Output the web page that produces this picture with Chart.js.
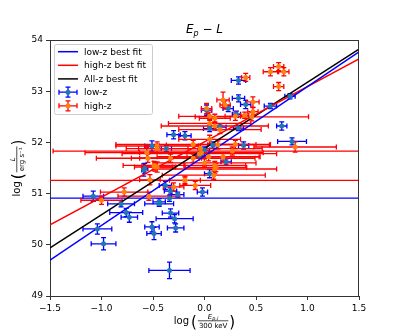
<!DOCTYPE html>
<html><head><meta charset="utf-8">
<script src="https://cdn.jsdelivr.net/npm/chart.js@4/dist/chart.umd.min.js"></script>
<style>html,body{margin:0;padding:0;background:#fff}canvas{display:block}</style>
</head><body>
<canvas id="c" width="399" height="332"></canvas>
<script>
// ---- data ----
const lowX    = [-1.08,-1.04,-0.98,-0.81,-0.76,-0.73,-0.59,-0.51,-0.49,-0.44,-0.44,-0.38,-0.34,-0.34,-0.33,-0.33,-0.29,-0.28,-0.26,-0.51,-0.30,-0.19,-0.37,-0.02,0.05,0.21,0.05,0.15,0.33,0.02,0.23,0.33,0.40,0.31,0.38,0.33,0.64,0.83,0.75,0.85,-0.58,-0.05,0.00,0.08];
const lowY    = [50.95,50.31,50.02,50.80,50.63,50.54,51.46,50.35,50.22,50.84,50.80,51.16,50.91,49.50,51.05,50.62,50.51,50.33,50.98,51.93,52.15,52.13,51.88,51.03,51.39,51.62,52.27,52.30,52.28,52.63,52.66,52.86,52.74,52.55,51.94,53.21,52.71,52.90,52.32,52.02,51.49,51.75,51.85,51.95];
const lowXErr = [0.10,0.14,0.12,0.13,0.16,0.08,0.02,0.07,0.07,0.06,0.14,0.06,3.00,0.20,0.06,0.08,0.18,0.08,0.06,0.07,0.065,0.06,0.05,0.05,0.05,0.05,0.06,0.06,0.05,0.05,0.05,0.06,0.05,0.04,0.05,0.07,0.06,0.05,0.05,0.14,0.03,0.05,0.05,0.05];
const lowYErr = [0.10,0.10,0.12,0.06,0.08,0.10,0.12,0.10,0.12,0.06,0.05,0.08,0.06,0.16,0.06,0.08,0.08,0.08,0.05,0.10,0.08,0.08,0.06,0.08,0.08,0.06,0.06,0.06,0.05,0.10,0.06,0.07,0.08,0.06,0.07,0.07,0.05,0.05,0.08,0.07,0.10,0.06,0.06,0.06];

const highX    = [-1.00,-0.78,-0.54,-0.53,-0.19,-0.09,-0.30,-0.46,0.09,0.11,-0.56,-0.55,-0.49,-0.46,-0.46,-0.33,-0.48,-0.11,-0.03,0.05,-0.04,0.04,0.13,0.10,0.30,0.27,0.10,0.18,0.05,0.88,0.10,0.30,0.46,0.02,0.18,0.20,0.47,0.47,0.40,0.64,0.72,0.77,0.72,0.39,-0.19,0.10,0.15,-0.11,-0.05,0.00,0.05];
const highY    = [50.87,51.03,50.95,51.27,51.26,51.16,51.13,51.52,51.36,51.51,51.80,51.69,51.55,51.93,51.88,51.69,51.52,51.69,51.80,52.06,51.88,51.72,51.95,51.55,51.96,51.83,51.48,51.72,52.37,51.91,52.47,52.51,52.50,52.66,52.83,52.73,52.79,52.60,53.27,53.38,53.48,53.38,53.09,52.53,51.26,52.32,52.25,51.96,51.78,51.60,52.51];
const highXErr = [0.20,0.23,0.30,0.10,0.15,0.15,0.10,0.15,0.50,0.30,0.60,0.50,0.30,0.40,0.30,0.30,0.20,0.60,0.60,0.30,0.60,0.50,0.50,0.30,0.20,1.74,0.60,0.35,0.40,0.40,0.15,0.10,0.55,0.05,0.06,0.05,0.06,0.05,0.04,0.07,0.05,0.05,0.05,0.04,3.00,0.52,0.40,0.75,0.75,0.50,0.30];
const highYErr = [0.08,0.08,0.08,0.10,0.08,0.08,0.08,0.10,0.08,0.08,0.10,0.08,0.08,0.08,0.08,0.08,0.08,0.08,0.08,0.08,0.08,0.08,0.08,0.08,0.08,0.08,0.08,0.08,0.08,0.10,0.08,0.08,0.08,0.10,0.15,0.08,0.10,0.08,0.08,0.08,0.08,0.08,0.08,0.06,0.06,0.08,0.08,0.08,0.08,0.08,0.08];

const fitX     = [-1.5, 1.5];
const lowFitY  = [49.70, 53.77];
const highFitY = [50.39, 53.63];
const allFitY  = [49.94, 53.82];

const xTicks = [-1.5,-1.0,-0.5,0.0,0.5,1.0,1.5];
const yTicks = [49,50,51,52,53,54];

const FONT = 'DejaVu Sans';
const fmtX = v => (v<0?'\u2212':'') + Math.abs(v).toFixed(1);
const fmtY = v => String(v);
const pts = (xs, ys) => xs.map((x,i)=>({x, y: ys[i]}));

const errPlugin = {
  id:'errbars',
  beforeDatasetsDraw(chart){
    const {ctx, chartArea:a, scales:{x, y}} = chart;
    ctx.save();
    ctx.beginPath(); ctx.rect(a.left, a.top, a.right-a.left, a.bottom-a.top); ctx.clip();
    const draw = (xs, ys, xe, ye, col) => {
      ctx.strokeStyle = col; ctx.lineWidth = 1.3;
      for (let i=0;i<xs.length;i++){
        const px = x.getPixelForValue(xs[i]), py = y.getPixelForValue(ys[i]);
        const x0 = x.getPixelForValue(xs[i]-xe[i]), x1 = x.getPixelForValue(xs[i]+xe[i]);
        const y0 = y.getPixelForValue(ys[i]-ye[i]), y1 = y.getPixelForValue(ys[i]+ye[i]);
        ctx.beginPath();
        ctx.moveTo(x0, py); ctx.lineTo(x1, py);
        ctx.moveTo(px, y0); ctx.lineTo(px, y1);
        ctx.moveTo(x0, py-2.5); ctx.lineTo(x0, py+2.5);
        ctx.moveTo(x1, py-2.5); ctx.lineTo(x1, py+2.5);
        ctx.moveTo(px-2.5, y0); ctx.lineTo(px+2.5, y0);
        ctx.moveTo(px-2.5, y1); ctx.lineTo(px+2.5, y1);
        ctx.stroke();
      }
    };
    draw(lowX, lowY, lowXErr, lowYErr, '#0000ff');
    draw(highX, highY, highXErr, highYErr, '#ff0000');
    ctx.restore();
  },
  afterDraw(chart){
    const {ctx, chartArea:a} = chart;
    ctx.save();
    ctx.strokeStyle = '#333'; ctx.lineWidth = 1;
    ctx.beginPath();
    ctx.moveTo(a.left, a.top+0.5); ctx.lineTo(a.right, a.top+0.5);
    ctx.moveTo(a.right-0.5, a.top); ctx.lineTo(a.right-0.5, a.bottom);
    ctx.stroke();
    ctx.fillStyle = '#000'; ctx.textBaseline = 'alphabetic';
    const cx = (a.left+a.right)/2;
    ctx.font = 'italic 12px ' + FONT;
    const wE = ctx.measureText('E').width;
    ctx.font = '8px ' + FONT; const wp = ctx.measureText('p').width;
    ctx.font = '12px ' + FONT; const wm = ctx.measureText(' \u2212 ').width;
    ctx.font = 'italic 12px ' + FONT; const wL = ctx.measureText('L').width;
    let tx = cx - (wE+wp+wm+wL)/2, ty = 33;
    ctx.textAlign='left';
    ctx.font = 'italic 12px ' + FONT; ctx.fillText('E', tx, ty); tx += wE;
    ctx.font = 'italic 8px ' + FONT; ctx.fillText('p', tx, ty+3); tx += wp;
    ctx.font = '12px ' + FONT; ctx.fillText(' \u2212 ', tx, ty); tx += wm;
    ctx.font = 'italic 12px ' + FONT; ctx.fillText('L', tx, ty);

    const drawFracLabel = (num, numSub, den, ox, oy) => {
      let px = ox;
      ctx.font = '10px ' + FONT; ctx.fillText('log', px, oy); px += ctx.measureText('log').width + 2;
      ctx.font = '15px ' + FONT; ctx.fillText('(', px, oy+3); px += ctx.measureText('(').width + 1;
      ctx.font = 'italic 7px ' + FONT; const wn = ctx.measureText(num).width;
      ctx.font = 'italic 5px ' + FONT; const wns = ctx.measureText(numSub).width;
      ctx.font = '7px ' + FONT; const wd = ctx.measureText(den).width;
      const fw = Math.max(wn+wns, wd) + 2;
      let nx = px + (fw - (wn+wns))/2;
      ctx.font = 'italic 7px ' + FONT; ctx.fillText(num, nx, oy-5);
      ctx.font = 'italic 5px ' + FONT; ctx.fillText(numSub, nx+wn, oy-4);
      ctx.fillRect(px, oy-3.5, fw, 0.7);
      ctx.font = '7px ' + FONT; ctx.fillText(den, px + (fw-wd)/2, oy+4);
      px += fw + 1;
      ctx.font = '15px ' + FONT; ctx.fillText(')', px, oy+3); px += ctx.measureText(')').width;
      return px - ox;
    };
    ctx.save(); ctx.globalAlpha = 0;
    const wx = drawFracLabel('E','p,i','300 keV',0,-100);
    const wy = drawFracLabel('L','','erg s\u207B\u00B9',0,-100);
    ctx.restore();
    drawFracLabel('E','p,i','300 keV', cx - wx/2, 324);
    ctx.save();
    ctx.translate(20, (a.top+a.bottom)/2); ctx.rotate(-Math.PI/2);
    drawFracLabel('L','','erg s\u207B\u00B9', -wy/2, 0);
    ctx.restore();

    const lx = 54, ly = 44, lw = 98, lh = 70;
    ctx.fillStyle = 'rgba(255,255,255,0.85)';
    ctx.strokeStyle = '#ccc'; ctx.lineWidth = 1;
    ctx.beginPath(); ctx.roundRect(lx+0.5, ly+0.5, lw, lh, 2); ctx.fill(); ctx.stroke();
    const items = [
      {t:'low-z best fit', c:'#0000ff', kind:'line'},
      {t:'high-z best fit', c:'#ff0000', kind:'line'},
      {t:'All-z best fit', c:'#000000', kind:'line'},
      {t:'low-z', c:'#0000ff', m:'#1f77b4', kind:'err'},
      {t:'high-z', c:'#ff0000', m:'#ff7f0e', kind:'err'}
    ];
    const rows = [51.7, 65.3, 78.9, 92.2, 105.8];
    ctx.font = '9px ' + FONT; ctx.textBaseline = 'middle';
    items.forEach((it, i) => {
      const yy = rows[i];
      if (it.kind === 'line'){
        ctx.strokeStyle = it.c; ctx.lineWidth = 1.5;
        ctx.beginPath(); ctx.moveTo(58, yy); ctx.lineTo(78, yy); ctx.stroke();
      } else {
        ctx.strokeStyle = it.c; ctx.lineWidth = 1.3;
        ctx.beginPath();
        ctx.moveTo(59, yy); ctx.lineTo(77, yy);
        ctx.moveTo(59, yy-2.5); ctx.lineTo(59, yy+2.5);
        ctx.moveTo(77, yy-2.5); ctx.lineTo(77, yy+2.5);
        ctx.moveTo(68, yy-5); ctx.lineTo(68, yy+5);
        ctx.moveTo(65.5, yy-5); ctx.lineTo(70.5, yy-5);
        ctx.moveTo(65.5, yy+5); ctx.lineTo(70.5, yy+5);
        ctx.stroke();
        ctx.fillStyle = it.m; ctx.beginPath(); ctx.arc(68, yy, 2.5, 0, Math.PI*2); ctx.fill();
      }
      ctx.fillStyle = '#000'; ctx.textAlign = 'left';
      ctx.fillText(it.t, 84, yy+0.5);
    });
    ctx.restore();
  }
};

new Chart(document.getElementById('c'), {
  type: 'scatter',
  data: { datasets: [
    { label:'high-z', data: pts(highX, highY), backgroundColor:'#ff7f0e', borderWidth:0, pointRadius:2.5 },
    { label:'low-z', data: pts(lowX, lowY), backgroundColor:'#1f77b4', borderWidth:0, pointRadius:2.5 },
    { type:'line', label:'low-z best fit', data: pts(fitX, lowFitY), borderColor:'#0000ff', borderWidth:1.5, pointRadius:0, fill:false },
    { type:'line', label:'high-z best fit', data: pts(fitX, highFitY), borderColor:'#ff0000', borderWidth:1.5, pointRadius:0, fill:false },
    { type:'line', label:'All-z best fit', data: pts(fitX, allFitY), borderColor:'#000000', borderWidth:1.5, pointRadius:0, fill:false }
  ]},
  options: {
    responsive:false, animation:false, events:[],
    layout:{ padding:{ top:40, right:40, left:0, bottom:0 } },
    plugins:{ legend:{display:false}, tooltip:{enabled:false}, title:{display:false} },
    scales:{
      x:{ type:'linear', min:-1.5, max:1.5,
        afterFit(s){ s.height = 36; },
        afterBuildTicks(s){ s.ticks = xTicks.map(v=>({value:v})); },
        ticks:{ callback:fmtX, color:'#000', font:{family:FONT, size:9}, maxRotation:0, autoSkip:false, padding:3 },
        grid:{ drawOnChartArea:false, drawTicks:true, tickLength:4, color:'#333' },
        border:{ color:'#333', width:1 } },
      y:{ type:'linear', min:49, max:54,
        afterFit(s){ s.width = 50; },
        afterBuildTicks(s){ s.ticks = yTicks.map(v=>({value:v})); },
        ticks:{ callback:fmtY, color:'#000', font:{family:FONT, size:9}, autoSkip:false, padding:3 },
        grid:{ drawOnChartArea:false, drawTicks:true, tickLength:4, color:'#333' },
        border:{ color:'#333', width:1 } }
    }
  },
  plugins:[errPlugin]
});
</script>
</body></html>
